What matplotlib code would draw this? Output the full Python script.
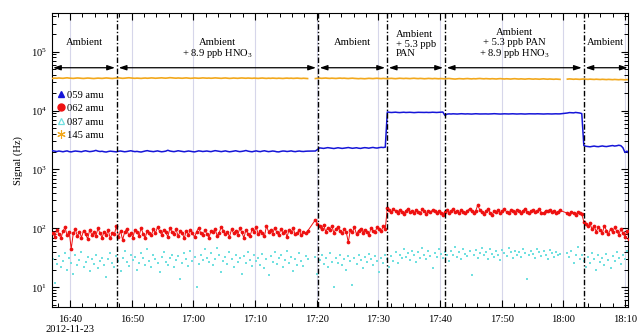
import numpy as np
import matplotlib
matplotlib.use("Agg")
import matplotlib.pyplot as plt
import matplotlib.dates as mdates
import matplotlib.transforms as mtransforms
from matplotlib.lines import Line2D

plt.rcParams['font.family'] = ['Liberation Serif', 'DejaVu Serif']
plt.rcParams['mathtext.fontset'] = 'custom'
plt.rcParams['mathtext.rm'] = 'Liberation Serif'
plt.rcParams['mathtext.it'] = 'Liberation Serif:italic'

# ---------------- data ----------------
base = np.datetime64('2012-11-23T16:37:00')
# three acquisition segments (start offset in seconds from 16:37:00, 20 s sampling)
seg_starts_s = [12, 2568, 5020]
seg_lengths = [125, 120, 31]
sample_step_s = 20

blue_059 = [
    # segment A
    2080, 2050, 2020, 2060, 2030, 2000, 2040, 2070, 2010, 1990, 2030, 2060, 2040, 2020, 2000, 2050, 2080, 2040, 2010, 2030, 2060, 2110, 2050, 2020, 2040,
    2000, 1980, 2020, 2050, 2030, 2010, 1990, 2040, 2060, 2030, 2000, 2020, 2050, 2080, 2040, 2010, 2030, 2000, 1980, 2020, 2060, 2090, 2050, 2030, 2010,
    2040, 2070, 2030, 2000, 2020, 2050, 2120, 2060, 2030, 2010, 2040, 2080, 2050, 2020, 2000, 2030, 2060, 2040, 2010, 1990, 2030, 2070, 2050, 2020, 2040,
    2060, 2030, 2010, 2050, 2090, 2060, 2030, 2010, 2040, 2070, 2030, 2000, 2020, 2050, 2080, 2040, 2010, 2030, 2060, 2100, 2050, 2020, 2000, 2040, 2070,
    2030, 2010, 2050, 2080, 2040, 2010, 2030, 2060, 2040, 2000, 1990, 2030, 2060, 2050, 2020, 2040, 2070, 2030, 2010, 2040, 2060, 2030, 2020, 2040, 2050,
    # segment B
    2060, 2180,
    2330, 2300, 2280, 2310, 2350, 2320, 2290, 2270, 2300, 2340, 2310, 2280, 2300, 2330, 2360, 2320, 2290, 2310, 2340, 2300, 2280, 2320, 2350, 2330, 2300,
    2340, 2370, 2330, 2310, 2350, 2380, 2360, 2390,
    9500, 9350, 9280, 9320, 9400, 9300, 9250, 9330, 9380, 9290, 9310, 9360, 9280, 9240, 9300, 9350, 9320, 9270, 9300, 9340, 9290, 9310, 9380, 9330, 9290,
    9350, 9400, 9450,
    8300, 8700, 8800, 8750, 8820, 8780, 8740, 8800, 8850, 8790, 8760, 8810, 8770, 8730, 8790, 8840, 8800, 8760, 8780, 8820,
    8790, 8750, 8770, 8810, 8860, 8800, 8770, 8740, 8780, 8820, 8790, 8760, 8800, 8830, 8780, 8750, 8790, 8810, 8770, 8740,
    8780, 8820, 8800, 8760, 8790, 8830, 8800, 8770, 8750, 8790, 8810, 8780, 8760, 8800, 8820, 8790, 8800,
    # segment C
    9100, 9250, 9200, 9150, 9300, 9200, 9100, 8900,
    2550, 2480, 2450, 2430, 2470, 2500, 2460, 2440, 2480, 2510, 2470, 2450, 2490, 2520, 2550, 2500, 2530, 2580, 2540, 2350,
    1950, 2050, 1850,
]

red_062 = [
    # segment A
    85, 72, 95, 80, 68, 90, 104, 76, 88, 45, 82, 96, 74, 88, 70, 92, 81, 66, 95, 78, 86, 74, 100, 83, 70,
    88, 77, 93, 68, 84, 79, 110, 72, 90, 64, 86, 98, 76, 83, 70, 95, 88, 74, 102, 81, 69, 92, 85, 78, 96,
    84, 105, 90, 78, 94, 86, 72, 100, 88, 80, 97, 74, 89, 83, 68, 92, 78, 95, 85, 71, 88, 102, 84, 76, 93,
    81, 70, 90, 86, 98, 75, 84, 107, 92, 79, 88, 72, 96, 83, 91, 77, 100, 86, 69, 94, 81, 74, 97, 88, 105,
    79, 92, 85, 73, 110, 88, 95, 80, 103, 86, 76, 98, 84, 90, 72, 94, 87, 100, 79, 85, 93, 76, 88, 82, 90,
    # segment B
    140, 118,
    108, 96, 115, 88, 102, 93, 110, 84, 98, 105, 90, 82, 96, 88, 58, 94, 86, 104, 80, 92, 99, 85, 95, 88, 76,
    100, 92, 86, 104, 96, 90, 108, 98,
    225, 205, 190, 215, 198, 182, 208, 192, 176, 200, 214, 188, 196, 180, 205, 192, 184, 210, 195, 178,
    200, 188, 206, 194, 182, 198, 186, 172,
    190, 205, 185, 198, 212, 188, 196, 180, 204, 192, 186, 200, 215, 194, 182, 198, 250, 205, 190, 178,
    196, 210, 186, 170, 200, 192, 206, 184, 198, 212, 190, 180, 202, 194, 186, 208, 196, 182, 200, 214,
    192, 184, 198, 206, 188, 196, 210, 186, 180, 200, 194, 206, 188, 198, 184, 192, 202,
    # segment C
    182, 176, 192, 185, 170, 188, 180, 174,
    130, 118, 108, 122, 96, 112, 88, 104, 95, 84, 110, 92, 80, 98, 86, 104, 90, 78, 96, 84, 72, 92, 66,
]

cyan_087 = [
    # segment A
    30, 12, 25, 34, 22, 28, 38, 20, 31, 26, 17, 35, 24, 29, 40, 22, 27, 33, 19, 30, 25, 36, 21, 28, 32,
    24, 15, 30, 38, 26, 22, 34, 28, 19, 31, 42, 27, 23, 36, 29, 33, 20, 26, 38, 31, 24, 45, 28, 22, 35,
    30, 26, 18, 33, 40, 27, 24, 31, 36, 22, 29, 34, 14, 26, 38, 30, 23, 41, 28, 33, 10, 25, 36, 29, 44,
    32, 27, 38, 24, 30, 46, 35, 18, 28, 33, 25, 40, 30, 22, 36, 27, 31, 17, 34, 26, 39, 29, 23, 35, 28,
    32, 24, 37, 21, 30, 16, 34, 27, 40, 25, 31, 36, 22, 29, 42, 26, 33, 19, 30, 24, 38, 28, 23, 34, 30,
    # segment B
    33, 17, 29, 35, 25, 31, 22, 38, 27, 10, 32, 26, 36, 24, 30, 20, 34, 28, 11, 31,
    25, 35, 29, 21, 33, 27, 37, 30, 24, 34, 28, 18, 32, 26, 36, 30, 22, 34, 28, 40,
    26, 36, 31, 44, 33, 38, 29, 41, 35, 27, 39, 32, 46, 36, 30, 42, 34, 21, 38, 33,
    44, 37, 31, 40, 35, 28, 42, 36, 48, 33, 39, 30, 45, 37, 34, 41, 16, 36, 43, 32,
    38, 46, 35, 40, 30, 44, 37, 33, 41, 36, 29, 43, 38, 34, 47, 39, 31, 42, 36, 40,
    33, 45, 38, 14, 35, 42, 37, 31, 44, 39, 34, 41, 36, 30, 43, 38, 33, 40, 35, 37,
    # segment C
    38, 33, 41, 26, 36, 48, 30, 35, 28, 22, 33, 26, 38, 30, 20, 35, 27, 32, 24, 37,
    29, 21, 34, 28, 40, 31, 25, 36, 30, 42, 33,
]

orange_145_k = [
    # segment A (thousands of Hz)
    35.2, 35.6, 35.4, 35.8, 35.5, 35.3, 35.7, 36.0, 35.6, 35.4, 35.2, 35.5, 35.8, 35.6, 35.3, 35.1, 35.4, 35.7, 35.5, 35.2, 35.0, 35.3, 35.6, 35.4, 35.2,
    35.5, 35.8, 35.6, 35.3, 35.1, 35.4, 35.7, 35.9, 35.6, 35.3, 35.5, 35.8, 36.1, 35.8, 35.5, 35.3, 35.6, 35.4, 35.2, 35.5, 35.7, 35.4, 35.6, 35.9, 35.7,
    35.4, 35.6, 35.8, 36.0, 35.7, 35.5, 35.8, 36.2, 36.0, 35.7, 35.5, 35.8, 35.6, 35.4, 35.7, 35.9, 35.6, 35.3, 35.5, 35.8, 35.6, 35.4, 35.6, 35.9, 35.7,
    35.5, 35.7, 35.4, 35.6, 35.9, 35.7, 35.5, 35.3, 35.6, 35.8, 35.5, 35.2, 35.4, 35.7, 35.5, 35.3, 35.6, 35.8, 35.6, 35.4, 35.7, 35.5, 35.3, 35.6, 35.4,
    35.2, 35.5, 35.7, 35.4, 35.2, 35.5, 35.3, 35.6, 35.4, 35.2, 35.5, 35.3, 35.1, 35.4, 35.6, 35.3, 35.5, 35.2, 35.4, 35.6, 35.3, 35.1, 35.4, 35.2, 35.0,
    # segment B
    35.0, 35.4, 35.6, 35.3, 35.5, 35.7, 35.4, 35.2, 35.5, 35.3, 35.1, 35.4, 35.6, 35.3, 35.5, 35.2, 35.0, 35.3, 35.5, 35.2,
    35.0, 34.8, 35.1, 34.9, 34.7, 35.0, 35.3, 35.1, 34.9, 35.2, 35.4, 35.1, 34.9, 35.2, 35.0, 34.8, 35.1, 35.3, 35.0, 34.8,
    35.1, 35.4, 35.2, 35.0, 35.3, 35.1, 34.9, 35.2, 35.4, 35.1, 34.9, 35.2, 35.0, 34.7, 34.9, 35.2, 35.0, 34.8, 35.1, 34.9,
    34.7, 35.0, 34.8, 34.6, 34.9, 35.1, 34.8, 34.5, 34.3, 34.6, 34.9, 34.7, 34.5, 34.8, 35.0, 34.7, 34.5, 34.8, 34.6, 34.9,
    35.1, 34.8, 34.6, 34.9, 34.7, 34.5, 34.8, 34.6, 34.4, 34.7, 34.9, 34.6, 34.4, 34.7, 34.5, 34.3, 34.6, 34.8, 34.5, 34.3,
    34.6, 34.4, 34.2, 34.5, 34.7, 34.4, 34.2, 34.5, 34.3, 34.1, 34.4, 34.6, 34.3, 34.1, 34.4, 34.2, 34.0, 34.3, 34.1, 33.9,
    # segment C
    34.2, 34.5, 34.3, 34.0, 34.3, 34.1, 33.9, 34.2, 34.4, 34.1, 33.9, 34.2, 34.0, 33.8, 34.1, 33.9, 33.7, 34.0, 33.8, 33.6,
    33.9, 33.7, 33.5, 33.8, 33.6, 33.4, 33.7, 33.5, 33.3, 33.6, 33.4,
]

series_labels = ['059 amu', '062 amu', '087 amu', '145 amu']

# transition times (minutes after 16:37:00)
transition_min = [10.6, 43.2, 54.4, 63.8, 86.3]
period_labels = [
    'Ambient',
    'Ambient\n+ 8.9 ppb HNO$_3$',
    'Ambient',
    'Ambient\n+ 5.3 ppb\nPAN',
    'Ambient\n+ 5.3 ppb PAN\n+ 8.9 ppb HNO$_3$',
    'Ambient',
]

# ---------------- build time axis ----------------
seg_times = []
for s0, n in zip(seg_starts_s, seg_lengths):
    secs = s0 + sample_step_s * np.arange(n)
    seg_times.append(base + secs.astype('timedelta64[s]'))
times = np.concatenate(seg_times)

blue = np.array(blue_059, float)
red = np.array(red_062, float)
cyan = np.array(cyan_087, float)
orange = np.array(orange_145_k, float) * 1000.0

def tmin(m):
    return base + np.timedelta64(int(round(m * 60)), 's')

xmin = tmin(0.08)
xmax = tmin(93.57)

# ---------------- figure ----------------
fig = plt.figure(figsize=(6.38, 3.34), dpi=100)
ax = fig.add_axes([0.0815, 0.0808, 0.9035, 0.8788])

C_BLUE = '#1515d8'
C_RED = '#ee1010'
C_CYAN = '#70e0e0'
C_ORANGE = '#f2a81c'

major_loc = mdates.MinuteLocator(byminute=[0, 10, 20, 30, 40, 50])
ax.xaxis.set_major_locator(major_loc)
ax.xaxis.set_minor_locator(mdates.MinuteLocator(byminute=range(0, 60, 2)))
ax.xaxis.set_major_formatter(mdates.DateFormatter('%H:%M'))
ax.grid(True, axis='x', which='major', color='#d6d6ea', lw=0.8, zorder=0)

# series
idx = np.cumsum([0] + seg_lengths)
for i in range(3):
    sl = slice(idx[i], idx[i + 1])
    ax.plot(times[sl], orange[sl], color=C_ORANGE, lw=1.2, zorder=3)
ax.plot(times, cyan, linestyle='none', marker='s', ms=1.9, color=C_CYAN, mew=0, zorder=2)
ax.plot(times, red, color=C_RED, lw=0.7, marker='o', ms=2.7, mew=0, zorder=3)
ax.plot(times, blue, color=C_BLUE, lw=1.1, zorder=4)

ax.set_yscale('log')
ax.set_ylim(4.63, 4.45e5)
ax.set_xlim(xmin, xmax)

# transitions
for m in transition_min:
    ax.axvline(tmin(m), color='black', lw=1.0, ls=(0, (4, 1.5, 1, 1.5)), zorder=5)

# arrows and labels
bounds = [0.2] + transition_min + [93.45]
trans = mtransforms.blended_transform_factory(ax.transData, ax.transAxes)
arrow_y = 5.34e4
label_y = [0.8995, 0.879, 0.8995, 0.895, 0.895, 0.8995]
for k in range(len(bounds) - 1):
    a = bounds[k] + (0.3 if k > 0 else 0.05)
    b = bounds[k + 1] - (0.3 if k < len(bounds) - 2 else 0.0)
    ax.annotate('', xy=(mdates.date2num(tmin(b)), arrow_y), xytext=(mdates.date2num(tmin(a)), arrow_y),
                arrowprops=dict(arrowstyle='<|-|>,head_length=0.45,head_width=0.15', color='black',
                                lw=0.9, shrinkA=0, shrinkB=0), zorder=6)
    cx = mdates.date2num(tmin(0.5 * (bounds[k] + bounds[k + 1])))
    ma = 'left' if k == 3 else 'center'
    ax.text(cx, label_y[k], period_labels[k], transform=trans, ha='center', va='center',
            multialignment=ma, fontsize=7.6, linespacing=1.05, zorder=6)

# axes styling
ax.tick_params(axis='both', which='both', direction='in', top=True, right=True, labelsize=7.6)
ax.tick_params(axis='both', which='major', length=5, width=0.8)
ax.tick_params(axis='both', which='minor', length=2.8, width=0.7)
ax.tick_params(axis='x', which='major', pad=6)
for sp in ax.spines.values():
    sp.set_linewidth(0.8)
ax.set_ylabel('Signal (Hz)', fontsize=7.6, labelpad=6)
ax.text(mdates.date2num(tmin(3.0)), -0.075, '2012-11-23', transform=trans, ha='center', va='center', fontsize=7.6)

# legend
handles = [
    Line2D([], [], ls='none', marker='^', color=C_BLUE, ms=5),
    Line2D([], [], ls='none', marker='o', color=C_RED, ms=5),
    Line2D([], [], ls='none', marker='^', mfc='none', mec=C_CYAN, ms=5, mew=0.9),
    Line2D([], [], ls='none', marker=(6, 2, 0), color=C_ORANGE, ms=6, mew=0.8),
]
ax.legend(handles, series_labels, loc='upper left', bbox_to_anchor=(0.008, 0.738), frameon=False,
          fontsize=7.6, handlelength=0.8, handletextpad=0.15, labelspacing=0.38, borderpad=0,
          borderaxespad=0)

fig.savefig('out.png', dpi=100)
